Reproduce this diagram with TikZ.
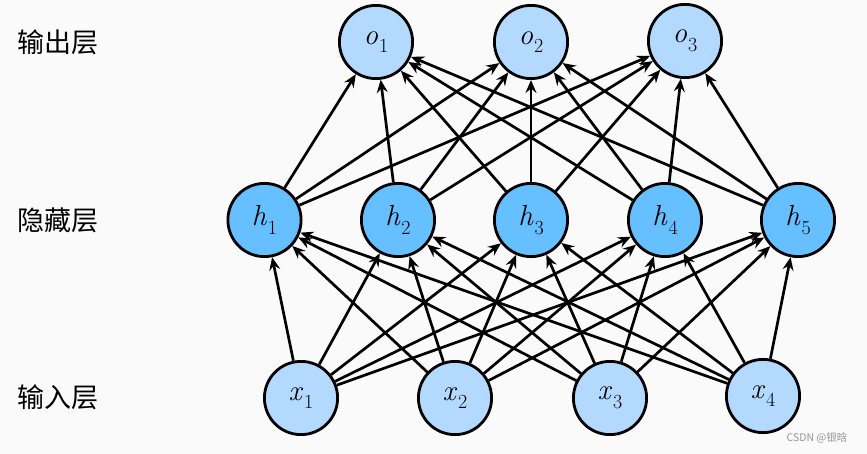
\documentclass[tikz,border=0pt]{standalone}
\usepackage{fontspec}
\newfontfamily\cjk{Noto Sans CJK SC}
\usetikzlibrary{arrows.meta}
\definecolor{bg}{RGB}{250,250,250}
\definecolor{lightb}{RGB}{179,217,255}
\definecolor{hidb}{RGB}{102,191,255}
\definecolor{wm}{RGB}{150,150,150}
\newcommand\nlbl[2]{\textit{#1}\kern1pt\raisebox{-0.3em}{\fontsize{20}{20}\selectfont #2}}
\begin{document}
\begin{tikzpicture}[x=1pt,y=-1pt,
  neuron/.style={circle,draw=black,line width=2.8pt,minimum size=73.2pt,inner sep=0pt,font=\fontsize{29}{29}\selectfont},
  io/.style={neuron,fill=lightb},
  hid/.style={neuron,fill=hidb},
  conn/.style={line width=2.7pt,-{Stealth[length=13pt,width=11pt,inset=4.5pt]}},
  lab/.style={font=\cjk\fontsize{27}{27}\selectfont,anchor=center,inner sep=0pt}]
\fill[bg] (0,0) rectangle (867,454);
\useasboundingbox (0,0) rectangle (867,454);
% output layer
\node[io] (o1) at (376,42) {\nlbl{o}{1}};
\node[io] (o2) at (531,42) {\nlbl{o}{2}};
\node[io] (o3) at (685,41) {\nlbl{o}{3}};
% hidden layer
\node[hid] (h1) at (264.5,220) {\nlbl{h}{1}};
\node[hid] (h2) at (398,220) {\nlbl{h}{2}};
\node[hid] (h3) at (531,220) {\nlbl{h}{3}};
\node[hid] (h4) at (665,220) {\nlbl{h}{4}};
\node[hid] (h5) at (798,220) {\nlbl{h}{5}};
% input layer
\node[io] (x1) at (301,398) {\nlbl{x}{1}};
\node[io] (x2) at (455,398) {\nlbl{x}{2}};
\node[io] (x3) at (610,398) {\nlbl{x}{3}};
\node[io] (x4) at (763,396) {\nlbl{x}{4}};
% connections
\foreach \i in {1,...,4}{
  \foreach \j in {1,...,5}{
    \draw[conn] (x\i) -- (h\j);
  }
}
\foreach \i in {1,...,5}{
  \foreach \j in {1,...,3}{
    \draw[conn] (h\i) -- (o\j);
  }
}
% layer labels
\node[lab] (lo) at (57.5,42) {输出层};
\node[lab] (lh) at (57.5,220) {隐藏层};
\node[lab] (li) at (57.5,397) {输入层};
% watermark
\node[font=\cjk\fontsize{10.5}{10.5}\selectfont,text=wm,inner sep=0pt] (wmk) at (817,438) {CSDN @银晗};
\end{tikzpicture}
\end{document}
